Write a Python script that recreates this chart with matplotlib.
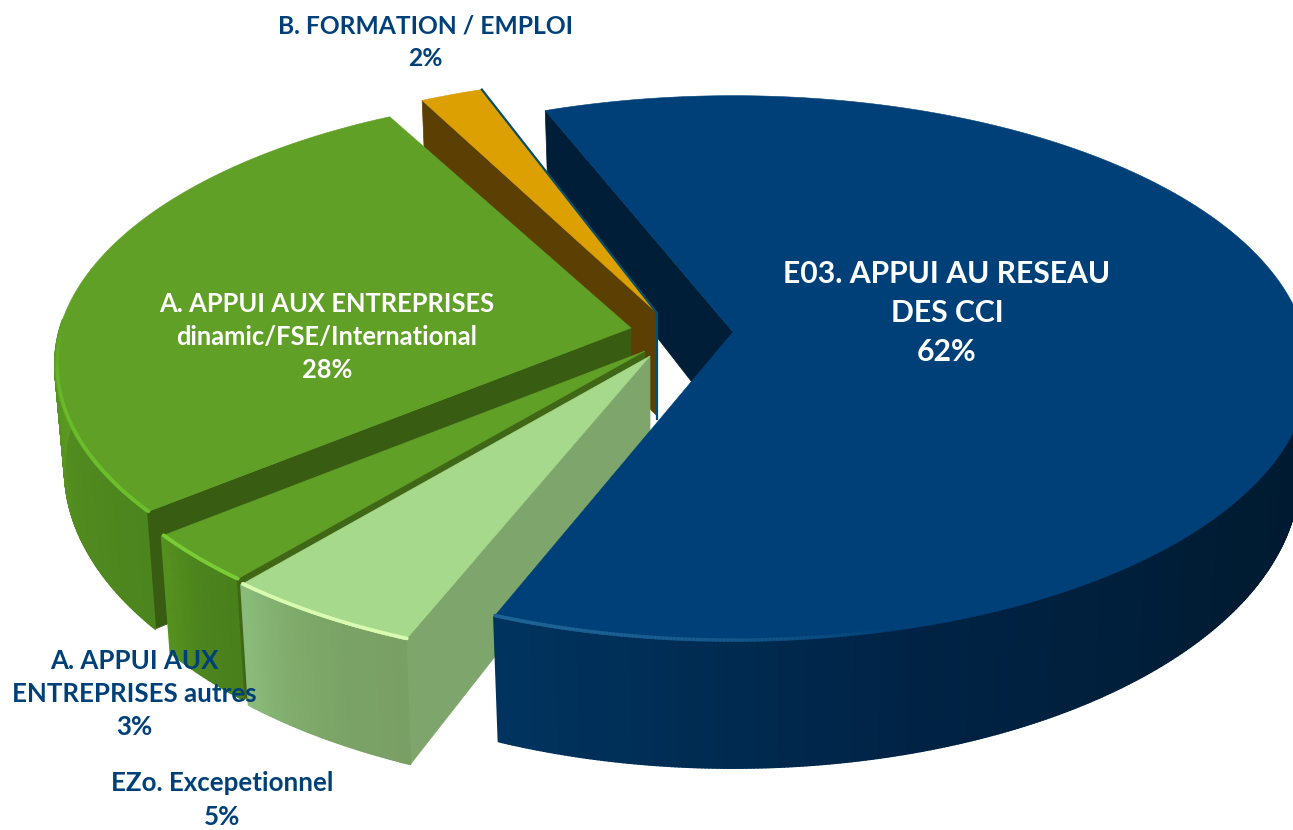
import numpy as np
import matplotlib
matplotlib.use('Agg')
import matplotlib.pyplot as plt
from matplotlib.collections import LineCollection, PolyCollection
from matplotlib.colors import LinearSegmentedColormap, to_rgb

plt.rcParams['font.family'] = ['Lato', 'DejaVu Sans']

# Data, clockwise from the start of the big slice
names = ['E03. APPUI AU RESEAU\nDES CCI', 'EZo. Excepetionnel',
         'A. APPUI AUX\nENTREPRISES autres',
         'A. APPUI AUX ENTREPRISES\ndinamic/FSE/International',
         'B. FORMATION / EMPLOI']
values = [62, 5, 3, 28, 2]
top_colors = ['#004078', '#a6d98b', '#60a026', '#60a026', '#dca003']
wall_colors = ['#001e38', '#7ea56b', '#3f6716', '#375c12', '#5c3f02']
side_ramps = [['#00345f', '#002345', '#001c33', '#001a2e'],
              ['#8cbc7c', '#7fab6b', '#7aa266', '#7a9f65'],
              ['#56921f', '#4c841e', '#4a7f1c'],
              ['#5a9a22', '#528c1f', '#4c841e'],
              ['#5c3f02', '#5c3f02']]
shine_colors = ['#1f6496', '#d8fbb0', '#79cc35', '#6cc02c', '#dca003']

# Layout of the projected pie, in pixels
start_angle = 338.3
rx, ry, depth = 571, 268, 106
persp, shrink = 0.134, 0.017
apexes = [(733, 332), (650, 356), (645, 351), (631, 328), (657, 313)]
turns = [0, 0.5, 0.5, 0.7, 1.5]


def project(theta, z, center, radius=1.0):
    # theta is in degrees, clockwise from straight up
    t = np.radians(theta)
    X, Y = radius * np.sin(t), -radius * np.cos(t)
    p = 1 / (1 - persp * Y + shrink * z)
    return center[0] + rx * X * p, center[1] + ry * Y * p + depth * z * p ** 1.8


def draw_wall(ax, theta, center, color):
    a0, a1 = project(theta, 0, center, 0), project(theta, 1, center, 0)
    b0, b1 = project(theta, 0, center), project(theta, 1, center)
    xs, ys = zip(a0, b0, b1, a1)
    ax.fill(xs, ys, color=color, lw=0.5)


def draw_side(ax, thetas, center, ramp):
    cmap = LinearSegmentedColormap.from_list('side', ramp)
    wrapped = thetas % 360
    front = thetas[(wrapped > 88) & (wrapped < 272)]
    if len(front) < 2:
        return
    polys, cols = [], []
    for i in range(len(front) - 1):
        polys.append([project(front[i], 0, center), project(front[i + 1], 0, center),
                      project(front[i + 1], 1, center), project(front[i], 1, center)])
        # ramp runs from the left end of the visible side to its right end
        cols.append(cmap(1 - (front[i] - front[0]) / (front[-1] - front[0])))
    ax.add_collection(PolyCollection(polys, facecolors=cols, edgecolors=cols, linewidths=1.2))


def draw_top(ax, thetas, center, color):
    xs, ys = project(thetas, 0, center)
    ax.fill(np.r_[center[0], xs], np.r_[center[1], ys], color=color, lw=0.4)


def draw_shine(ax, thetas, center, color, is_blue):
    xs, ys = project(thetas, 0, center, 0.996)
    pts = np.c_[xs, ys]
    segs = np.stack([pts[:-1], pts[1:]], axis=1)
    wrapped = thetas[:-1] % 360
    if is_blue:
        alpha = np.clip((wrapped - 165) / 36, 0, 1) * (wrapped < 270)
    else:
        alpha = np.clip(-np.cos(np.radians(wrapped)) * 1.6, 0, 1)
    rgba = [(*to_rgb(color), a) for a in alpha]
    ax.add_collection(LineCollection(segs, colors=rgba, linewidths=2.6, capstyle='round'))


fig = plt.figure(figsize=(12.93, 8.3), dpi=100)
ax = fig.add_axes([0, 0, 1, 1])
ax.set_xlim(0, 1293)
ax.set_ylim(830, 0)
ax.axis('off')

# Slice angles come straight from the values
shares = np.array(values) / sum(values) * 360
starts = start_angle + np.r_[0, np.cumsum(shares)[:-1]]
arcs = []
for s, w, turn in zip(starts, shares, turns):
    s = (s + turn) % 360
    arcs.append(np.linspace(s, s + w, max(int(w * 3), 12)))

# Back wall of the big slice goes behind everything
draw_wall(ax, arcs[0][0], apexes[0], wall_colors[0])

# Painter order: orange, green, small green, light green, then blue on top
for i in [4, 3, 2, 1, 0]:
    if i != 0:
        draw_wall(ax, arcs[i][0], apexes[i], wall_colors[i])
    draw_side(ax, arcs[i], apexes[i], side_ramps[i])
    draw_top(ax, arcs[i], apexes[i], top_colors[i])
    if i != 4:
        draw_shine(ax, arcs[i], apexes[i], shine_colors[i], i == 0)
    if i == 4:
        # thin teal sliver on the far edge of the orange slice
        e0 = project(arcs[4][-1], 0, apexes[4])
        ax.plot([e0[0], apexes[4][0], apexes[4][0]],
                [e0[1], apexes[4][1], apexes[4][1] + depth], color='#03506c', lw=1.6, zorder=1.5)

navy = '#004078'
ax.text(947, 313, f'{names[0]}\n{values[0]}%', color='white', fontsize=21.7, fontweight='bold',
        ha='center', va='center', linespacing=1.48)
ax.text(327, 337, f'{names[3]}\n{values[3]}%', color='white', fontsize=18.4, fontweight='bold',
        ha='center', va='center', linespacing=1.47)
ax.text(425, 42, f'{names[4]}\n{values[4]}%', color=navy, fontsize=17.7, fontweight='bold',
        ha='center', va='center', linespacing=1.5)
ax.text(134, 694, f'{names[2]}\n{values[2]}%', color=navy, fontsize=18.6, fontweight='bold',
        ha='center', va='center', linespacing=1.47)
ax.text(222, 800, f'{names[1]}\n{values[1]}%', color=navy, fontsize=18.6, fontweight='bold',
        ha='center', va='center', linespacing=1.47)

fig.savefig('out.png', dpi=100)
